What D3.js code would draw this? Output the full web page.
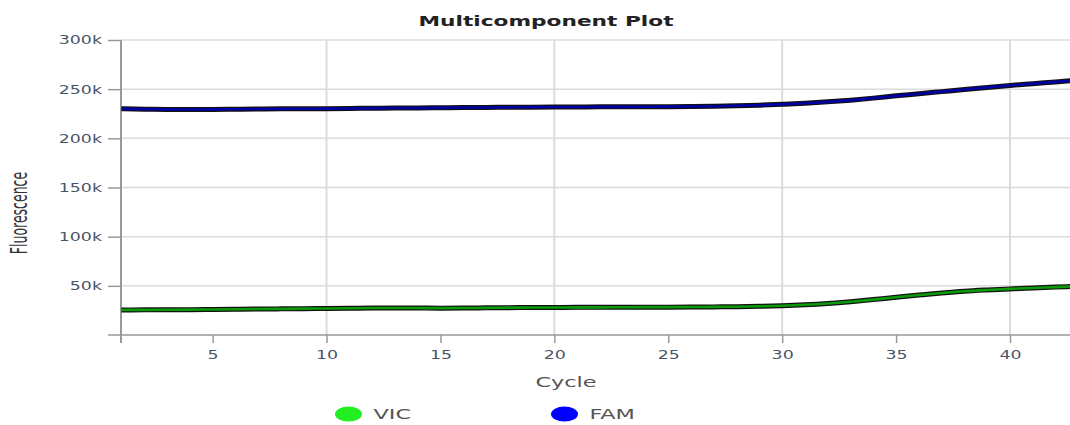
<!DOCTYPE html>
<html><head><meta charset="utf-8">
<script src="https://cdn.jsdelivr.net/npm/d3@7/dist/d3.min.js"></script>
<style>body{margin:0;background:#fff}svg{display:block}</style>
</head><body>
<svg id="c" width="1070" height="425"></svg>
<script>
const cycles = d3.range(1, 44);
const famValues = [230.0,229.7,229.4,229.3,229.4,229.6,229.8,230.0,230.1,230.2,230.4,230.6,230.8,230.9,231.1,231.3,231.4,231.6,231.7,231.8,231.9,232.0,232.0,232.1,232.2,232.4,232.7,233.1,233.7,234.6,235.7,237.1,238.8,240.9,243.2,245.3,247.5,249.7,251.8,253.8,255.6,257.4,259.2].map(v=>v*1000);
const vicValues = [25.5,25.6,25.7,25.8,26.0,26.2,26.4,26.6,26.8,27.0,27.2,27.4,27.5,27.4,27.3,27.4,27.6,27.8,27.9,28.0,28.1,28.1,28.2,28.3,28.3,28.4,28.6,28.8,29.2,29.8,30.7,32.0,33.8,36.0,38.4,40.6,42.7,44.5,45.8,46.9,47.8,48.7,49.6].map(v=>v*1000);
const yTicks = [50000,100000,150000,200000,250000,300000];
const xTicks = [5,10,15,20,25,30,35,40];
const xGrid = [10,20,30,40];
const seriesNames = ["VIC","FAM"];
const seriesColors = {VIC:"#0a9a0a", FAM:"#0000a8"};
const legendColors = {VIC:"#22ee22", FAM:"#0000ff"};

const svg = d3.select("#c");
const x = d3.scaleLinear().domain([1,40]).range([121.5,1010]);
const y = d3.scaleLinear().domain([0,300000]).range([335,40]);
const font = "'DejaVu Sans', Verdana, sans-serif";

function sText(g, px, py, s, anchor, txt){
  return g.append("text").attr("transform",`translate(${px},${py}) scale(${s},1)`)
    .attr("text-anchor",anchor).style("font-family",font).text(txt);
}

// grid
svg.append("g").selectAll("line").data(yTicks).join("line")
  .attr("x1",121).attr("x2",1070).attr("y1",d=>y(d)).attr("y2",d=>y(d))
  .attr("stroke","#dcdcdc").attr("stroke-width",1.5);
svg.append("g").selectAll("line").data(xGrid).join("line")
  .attr("x1",d=>x(d)).attr("x2",d=>x(d)).attr("y1",40).attr("y2",335)
  .attr("stroke","#dcdcdc").attr("stroke-width",2);

const TS = 1.45;
// y axis
const ya = svg.append("g").attr("transform","translate(121,0)")
  .call(d3.axisLeft(y).tickValues(yTicks).tickSize(13).tickPadding(6).tickFormat(d=>d/1000+"k"));
ya.select(".domain").remove();
ya.selectAll(".tick line").attr("stroke","#999").attr("stroke-width",1.5);
ya.selectAll("text").attr("fill","#4a5568").style("font-family",font).style("font-size","12px")
  .each(function(){ const t=d3.select(this); t.attr("x", +t.attr("x")/TS).attr("transform",`scale(${TS},1)`); });
svg.append("line").attr("x1",121).attr("x2",121).attr("y1",40).attr("y2",343).attr("stroke","#999").attr("stroke-width",2);
svg.append("line").attr("x1",108).attr("x2",121).attr("y1",335).attr("y2",335).attr("stroke","#999").attr("stroke-width",1.5);

// x axis
const xa = svg.append("g").attr("transform","translate(0,335)")
  .call(d3.axisBottom(x).tickValues(xTicks).tickSize(8).tickPadding(7));
xa.select(".domain").remove();
xa.selectAll(".tick line").attr("stroke","#999").attr("stroke-width",1.5);
xa.selectAll("text").attr("fill","#4a5568").style("font-family",font).style("font-size","12px")
  .attr("transform",`scale(1.45,1)`);
svg.append("line").attr("x1",121).attr("x2",1070).attr("y1",335).attr("y2",335).attr("stroke","#999").attr("stroke-width",1.5);

// lines
const line = d3.line().x((d,i)=>x(cycles[i])).y(d=>y(d)).curve(d3.curveMonotoneX);
const data = {VIC:vicValues, FAM:famValues};
seriesNames.forEach(n=>{
  svg.append("path").datum(data[n]).attr("d",line).attr("fill","none")
    .attr("stroke","#111").attr("stroke-width",5);
  svg.append("path").datum(data[n]).attr("d",line).attr("fill","none")
    .attr("stroke",seriesColors[n]).attr("stroke-width",2.6);
});

// title & labels
sText(svg, 546, 26, 1.55, "middle", "Multicomponent Plot")
  .style("font-size","14px").style("font-weight","bold").attr("fill","#222");
svg.append("text").attr("transform","translate(27,213) scale(1.9,1) rotate(-90)").attr("text-anchor","middle")
  .style("font-family",font).style("font-size","12.5px").attr("fill","#333").text("Fluorescence");
sText(svg, 566, 387, 1.6, "middle", "Cycle").style("font-size","14px").attr("fill","#555");

// legend
const lg = svg.append("g").selectAll("g").data(seriesNames).join("g")
  .attr("transform",(d,i)=>`translate(${348.5+i*216},414)`);
lg.append("ellipse").attr("rx",13.5).attr("ry",7.5).attr("fill",d=>legendColors[d]);
lg.append("text").attr("transform","translate(25,5) scale(1.6,1)").style("font-family",font).style("font-size","14px")
  .attr("fill","#555").text(d=>d);
</script>
</body></html>
